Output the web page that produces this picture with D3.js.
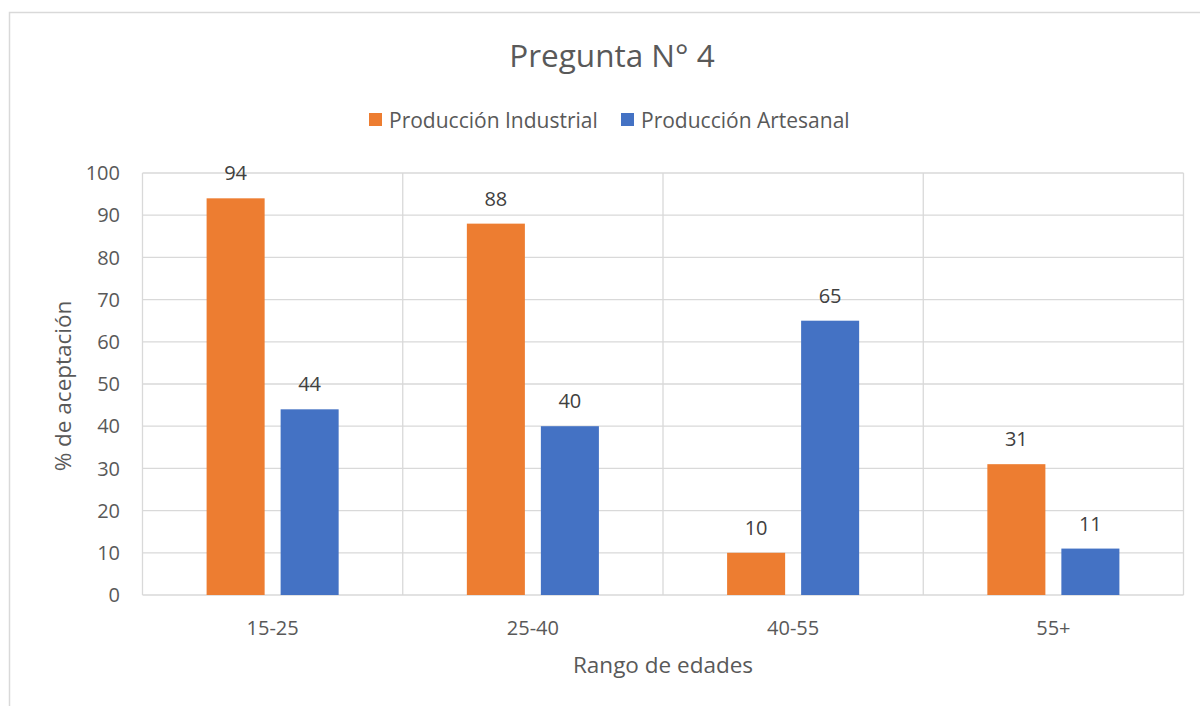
<!DOCTYPE html>
<html>
<head>
<meta charset="utf-8">
<script src="https://cdn.jsdelivr.net/npm/d3@7"></script>
<style>
  html, body { margin: 0; padding: 0; background: #fff; }
  svg { display: block; font-family: "Open Sans", sans-serif; }
</style>
</head>
<body>
<svg id="chart" width="1200" height="706"></svg>
<script>
// Age ranges and acceptance percentages per production type
const categories = ["15-25", "25-40", "40-55", "55+"];
const seriesNames = ["Producción Industrial", "Producción Artesanal"];
const industrial = [94, 88, 10, 31];
const artesanal = [44, 40, 65, 11];
const yTicks = [0, 10, 20, 30, 40, 50, 60, 70, 80, 90, 100];
const colors = ["#ED7D31", "#4472C4"];

const rows = categories.map((c, i) => ({ cat: c, values: [industrial[i], artesanal[i]] }));

const svg = d3.select("#chart");
const plot = { left: 142.5, right: 1183.5, top: 173, bottom: 595 };

// Outer chart frame
svg.append("rect")
  .attr("x", 9.5).attr("y", 12.5)
  .attr("width", 1220).attr("height", 720)
  .attr("fill", "none").attr("stroke", "#d9d9d9").attr("stroke-width", 1.5);

const x0 = d3.scaleBand().domain(categories).range([plot.left, plot.right]).padding(0);
const x1 = d3.scaleBand().domain(seriesNames).range([0, x0.bandwidth()])
  .paddingInner(0.216).paddingOuter(0.866);
const y = d3.scaleLinear().domain([0, 100]).range([plot.bottom, plot.top]);

// Horizontal gridlines
svg.append("g").selectAll("line").data(yTicks).join("line")
  .attr("x1", plot.left).attr("x2", plot.right)
  .attr("y1", d => y(d)).attr("y2", d => y(d))
  .attr("stroke", "#d9d9d9").attr("stroke-width", 1.3);

// Vertical category separators
const seps = categories.map(c => x0(c)).concat([plot.right]);
svg.append("g").selectAll("line").data(seps).join("line")
  .attr("x1", d => d).attr("x2", d => d)
  .attr("y1", plot.top).attr("y2", plot.bottom)
  .attr("stroke", "#d9d9d9").attr("stroke-width", 1.3);

// Y axis tick labels
svg.append("g").selectAll("text").data(yTicks).join("text")
  .attr("x", 120).attr("y", d => y(d))
  .attr("dy", "0.36em")
  .attr("text-anchor", "end")
  .attr("font-size", 20).attr("fill", "#595959")
  .text(d => d);

// Bars
const groups = svg.append("g").selectAll("g").data(rows).join("g")
  .attr("transform", d => `translate(${x0(d.cat)},0)`);

groups.selectAll("rect")
  .data(d => d.values.map((v, i) => ({ name: seriesNames[i], v, i })))
  .join("rect")
  .attr("x", d => x1(d.name))
  .attr("width", x1.bandwidth())
  .attr("y", d => y(d.v))
  .attr("height", d => y(0) - y(d.v))
  .attr("fill", d => colors[d.i]);

// Value labels above bars
groups.selectAll("text")
  .data(d => d.values.map((v, i) => ({ name: seriesNames[i], v, i })))
  .join("text")
  .attr("x", d => x1(d.name) + x1.bandwidth() / 2)
  .attr("y", d => y(d.v) - 18)
  .attr("text-anchor", "middle")
  .attr("font-size", 20).attr("fill", "#404040")
  .text(d => d.v);

// Category labels
svg.append("g").selectAll("text").data(categories).join("text")
  .attr("x", d => x0(d) + x0.bandwidth() / 2)
  .attr("y", 635)
  .attr("text-anchor", "middle")
  .attr("font-size", 20).attr("fill", "#595959")
  .text(d => d);

// Axis titles
svg.append("text")
  .attr("x", 663).attr("y", 673)
  .attr("text-anchor", "middle")
  .attr("font-size", 22.5).attr("fill", "#595959")
  .text("Rango de edades");

svg.append("text")
  .attr("transform", "translate(71,386) rotate(-90)")
  .attr("text-anchor", "middle")
  .attr("font-size", 22.5).attr("fill", "#595959")
  .text("% de aceptación");

// Title
svg.append("text")
  .attr("x", 612).attr("y", 67)
  .attr("text-anchor", "middle")
  .attr("font-size", 31.5).attr("fill", "#595959")
  .text("Pregunta N° 4");

// Legend
const legendX = [369, 621];
const legend = svg.append("g").selectAll("g").data(seriesNames).join("g")
  .attr("transform", (d, i) => `translate(${legendX[i]},113)`);
legend.append("rect")
  .attr("width", 13).attr("height", 13)
  .attr("fill", (d, i) => colors[i]);
legend.append("text")
  .attr("x", 20).attr("y", 14.5)
  .attr("font-size", 21).attr("fill", "#595959")
  .text(d => d);
</script>
</body>
</html>
